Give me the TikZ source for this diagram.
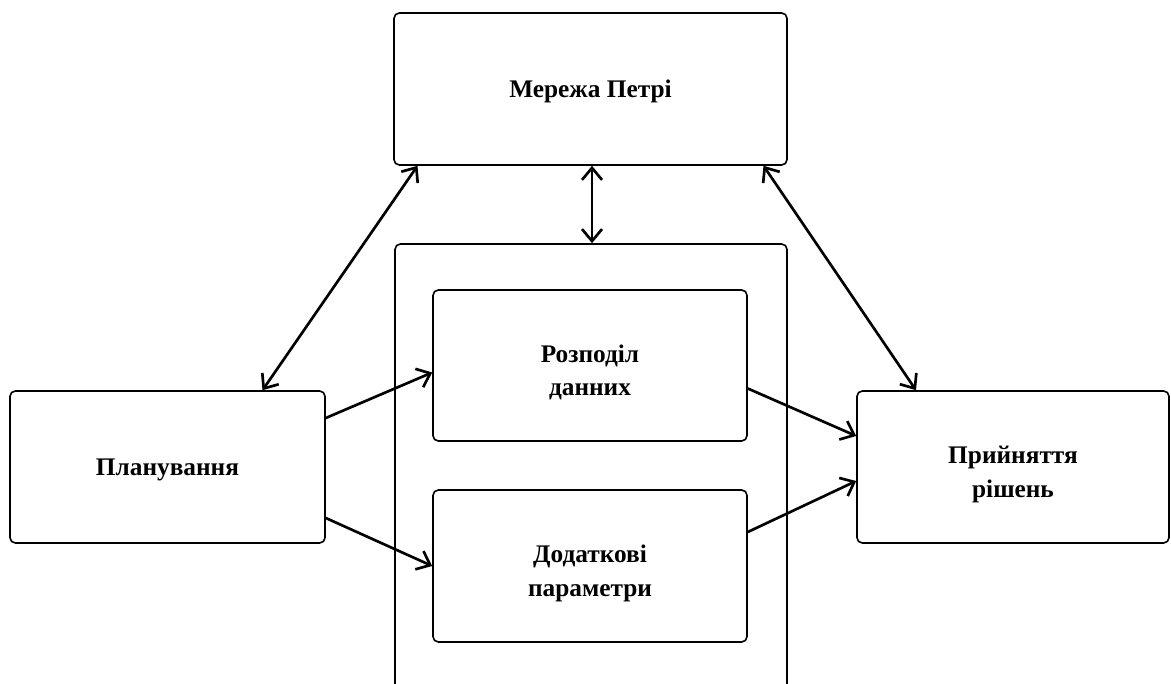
\documentclass[tikz,border=0pt]{standalone}
\usepackage{fontspec}
\setmainfont{Liberation Serif}
\usetikzlibrary{arrows.meta,calc}
\newcommand{\twolines}[2]{\raisebox{-5pt}[\height][\depth]{\begin{tabular}{@{}c@{}}#1\\#2\end{tabular}}}
\newcommand{\oneline}[1]{\raisebox{-2pt}[\height][\depth]{#1}}
\begin{document}
\begin{tikzpicture}[x=0.75pt,y=-0.75pt,
  box/.style={draw, line width=1.2pt, rounded corners=4pt, inner sep=0pt, align=center,
    font=\fontsize{19}{25}\selectfont\bfseries},
  arr/.style={line width=2pt, -{Straight Barb[length=9pt,width=15pt,line width=2pt]}},
  darr/.style={line width=2pt, {Straight Barb[length=9pt,width=15pt,line width=2pt]}-{Straight Barb[length=9pt,width=15pt,line width=2pt]}}]
\useasboundingbox (0,0) rectangle (1171,684);
\clip (0,0) rectangle (1171,684);
\node[box, minimum width=393*0.75pt, minimum height=152*0.75pt] (petri) at (590.5,89) {\oneline{Мережа Петрі}};
\node[box, minimum width=392*0.75pt, minimum height=476*0.75pt] (cont) at (591,482) {};
\node[box, minimum width=314*0.75pt, minimum height=151*0.75pt] (rozp) at (590,365.5) {\twolines{Розподіл}{данних}};
\node[box, minimum width=314*0.75pt, minimum height=152*0.75pt] (dod) at (590,566) {\twolines{Додаткові}{параметри}};
\node[box, minimum width=315*0.75pt, minimum height=152*0.75pt] (plan) at (167.5,467) {\oneline{Планування}};
\node[box, minimum width=312*0.75pt, minimum height=152*0.75pt] (pryin) at (1013,467) {\twolines{Прийняття}{рішень}};
\draw[darr] ($(plan.north)+(95,0)$) -- ($(petri.south)+(-173,0)$);
\draw[darr] ($(petri.south)+(1.5,0)$) -- ($(cont.north)+(1,0)$);
\draw[darr] ($(petri.south)+(173,0)$) -- ($(pryin.north)+(-97,0)$);
\draw[arr] ($(plan.east)+(0,-49)$) -- ($(rozp.west)+(0,7)$);
\draw[arr] ($(plan.east)+(0,51)$) -- ($(dod.west)+(0,0)$);
\draw[arr] ($(rozp.east)+(0,23)$) -- ($(pryin.west)+(0,-31)$);
\draw[arr] ($(dod.east)+(0,-34)$) -- ($(pryin.west)+(0,14)$);
\end{tikzpicture}
\end{document}
